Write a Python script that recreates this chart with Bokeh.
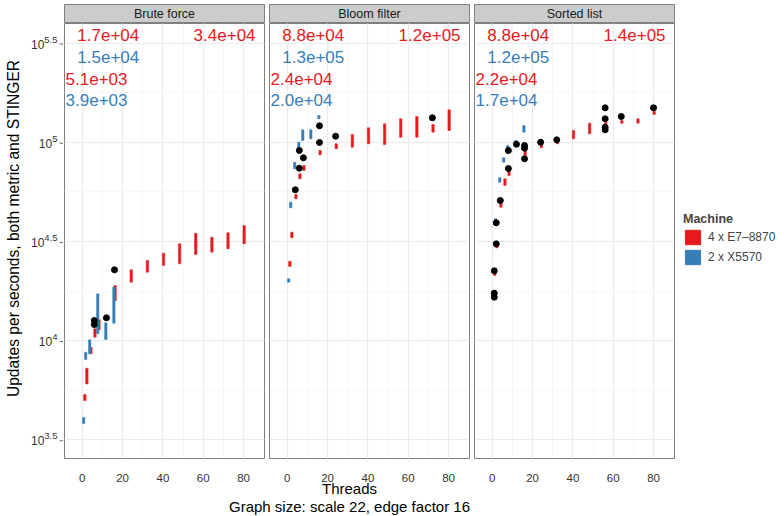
import math
from bokeh.plotting import figure
from bokeh.models import Range1d, FixedTicker, Legend, LegendItem, ColumnDataSource, Grid, LinearAxis, LogAxis
from bokeh.layouts import row, column
from bokeh.embed import file_html
from bokeh.resources import INLINE
from bokeh.core.properties import value

# ---------------- data ----------------
FACETS = ["Brute force", "Bloom filter", "Sorted list"]
MACHINES = ["4 x E7–8870", "2 x X5570"]
COLORS = ["#E41A1C", "#377EB8"]

X_TICKS = [0, 20, 40, 60, 80]
X_MINOR = [10, 30, 50, 70]
Y_TICK_EXP = [3.5, 4, 4.5, 5, 5.5]
Y_TICK_SUP = ["3.5", "4", "4.5", "5", "5.5"]
Y_MINOR_EXP = [3.75, 4.25, 4.75, 5.25]

# 4 x E7-8870 (red): thread counts, violin low / high (updates per second)
red_threads = [1, 2, 4, 6, 8, 16, 24, 32, 40, 48, 56, 64, 72, 80]
brute_red_lo = [4990, 6050, 8580, 10400, 11340, 15930, 19700, 22120, 23900, 24380, 27160, 27900, 29020, 30750]
brute_red_hi = [5350, 7260, 9260, 11470, 12730, 18960, 22740, 25330, 27570, 30750, 34780, 33200, 34940, 38030]
bloom_red_lo = [23630, 32970, 51840, 65390, 72000, 86420, 92630, 94360, 98150, 97360, 105970, 105970, 112300, 114550]
bloom_red_hi = [25130, 35190, 54500, 69270, 76290, 90820, 98150, 109350, 118200, 123800, 131200, 134750, 122800, 145650]
sorted_red_lo = [21290, 29360, 47030, 60510, 67960, 85700, 93710, 98150, 104020, 110230, 121380, 124680, 124680, 137880]
sorted_red_hi = [22120, 30150, 49840, 65390, 72000, 90820, 98850, 101990, 114550, 124680, 126100, 128620, 131200, 143290]

# 2 x X5570 (blue)
brute_blue_threads = [1, 2, 4, 8, 12, 16]
brute_blue_lo = [3822, 8030, 8580, 10820, 10130, 12240]
brute_blue_hi = [4097, 8740, 10090, 17210, 12290, 18590]
bloom_blue_threads = [1, 2, 4, 6, 8, 12, 16]
bloom_blue_lo = [19700, 46700, 73430, 93710, 101990, 104020, 131200]
bloom_blue_hi = [20490, 49840, 79300, 100000, 115480, 115480, 136300]
sorted_blue_threads = [1, 2, 4, 6, 8, 12, 16]
sorted_blue_lo = [16240, 38790, 62860, 79300, 90820, 98150, 112300]
sorted_blue_hi = [17890, 41110, 66160, 83460, 96250, 101990, 121380]

# STINGER points (black)
brute_dot_threads = [6, 6, 12, 16]
brute_dot_vals = [12630, 12050, 13030, 22740]
bloom_dot_threads = [4, 6, 6, 8, 16, 16, 24, 72]
bloom_dot_vals = [57560, 73960, 90820, 83460, 120960, 99650, 107200, 132740]
sorted_dot_threads = [1, 1, 1, 2, 2, 4, 8, 8, 12, 16, 16, 16, 24, 32, 56, 56, 56, 56, 64, 80]
sorted_dot_vals = [17330, 16550, 22480, 30750, 39250, 50840, 73690, 90820, 97700, 96250, 93280, 82490,
                   100000, 102820, 149080, 131200, 119000, 115480, 134750, 149080]

# annotation texts: red@16, red@80, blue@16, red@1, blue@1
brute_ann = ["1.7e+04", "3.4e+04", "1.5e+04", "5.1e+03", "3.9e+03"]
bloom_ann = ["8.8e+04", "1.2e+05", "1.3e+05", "2.4e+04", "2.0e+04"]
sorted_ann = ["8.8e+04", "1.4e+05", "1.2e+05", "2.2e+04", "1.7e+04"]
ANN_COLOR_IDX = [0, 0, 1, 0, 1]

Y_TITLE = "Updates per seconds, both metric and STINGER"
X_TITLE = "Threads"
SUBTITLE = "Graph size: scale 22, edge factor 16"
LEGEND_TITLE = "Machine"

PANELS = [
    (red_threads, brute_red_lo, brute_red_hi, brute_blue_threads, brute_blue_lo, brute_blue_hi,
     brute_dot_threads, brute_dot_vals, brute_ann),
    (red_threads, bloom_red_lo, bloom_red_hi, bloom_blue_threads, bloom_blue_lo, bloom_blue_hi,
     bloom_dot_threads, bloom_dot_vals, bloom_ann),
    (red_threads, sorted_red_lo, sorted_red_hi, sorted_blue_threads, sorted_blue_lo, sorted_blue_hi,
     sorted_dot_threads, sorted_dot_vals, sorted_ann),
]

# ---------------- style / layout ----------------
FONT = "Liberation Sans"
X0, X1 = -8.8, 90.4
Y0, Y1 = 10 ** 3.4058, 10 ** 5.5983
FW, FH = 200, 435
TOP_STRIP = 4
STRIP_H = 19
BOTTOM = 9
LW = 63
LEFTS = [1, 3, 3]
RIGHTS = [2, 2, 2]
ANN_X = [12.9, 70.6, 12.9, 7.1, 7.1]
ANN_LOGY = [5.542, 5.542, 5.428, 5.320, 5.212]
TICK_COLOR = "#666666"
TEXT_COLOR = "#333333"
ROW_H = TOP_STRIP + STRIP_H + FH + BOTTOM
PANEL_W = [LEFTS[k] + FW + RIGHTS[k] for k in range(3)]
FRAME_LEFT = [LW + sum(PANEL_W[:k]) + LEFTS[k] for k in range(3)]
LF_SHIFT = 4  # compensates the extra vertical space the row gives the left column

x_range = Range1d(X0, X1)
y_range = Range1d(Y0, Y1)
tick_y = [10 ** e for e in Y_TICK_EXP]
minor_y = [10 ** e for e in Y_MINOR_EXP]


def style_grid(g):
    g.grid_line_color = "#ebebeb"
    g.grid_line_width = 1.2
    g.minor_grid_line_color = "#f6f6f6"
    g.minor_grid_line_width = 1


def add_grids(p):
    try:
        gx = Grid(dimension=0, ticker=FixedTicker(ticks=X_TICKS, minor_ticks=X_MINOR))
        gy = Grid(dimension=1, ticker=FixedTicker(ticks=tick_y, minor_ticks=minor_y))
    except Exception:
        ax = LinearAxis(ticker=FixedTicker(ticks=X_TICKS, minor_ticks=X_MINOR), visible=False)
        ay = LogAxis(ticker=FixedTicker(ticks=tick_y, minor_ticks=minor_y), visible=False)
        p.add_layout(ax, "below")
        p.add_layout(ay, "left")
        gx = Grid(dimension=0, axis=ax)
        gy = Grid(dimension=1, axis=ay)
    for g in (gx, gy):
        style_grid(g)
        g.level = "underlay"
        p.add_layout(g)


# ---- left strip with y tick labels and y title ----
lf = figure(frame_width=LW, frame_height=FH, x_range=Range1d(0, LW), y_range=y_range, y_axis_type="log",
            min_border_left=0, min_border_right=0, min_border_top=STRIP_H + TOP_STRIP - LF_SHIFT,
            min_border_bottom=BOTTOM + LF_SHIFT,
            toolbar_location=None, output_backend="svg", x_axis_location=None, y_axis_location=None,
            align="start")
lf.grid.visible = False
lf.outline_line_color = None
lf.segment(x0=[LW - 4] * len(tick_y), x1=[LW] * len(tick_y), y0=tick_y, y1=tick_y,
           line_color=TICK_COLOR, line_width=1)
sup_w = [5.3 * len(s.replace(".", "")) + 2.6 * s.count(".") for s in Y_TICK_SUP]
lf.text(x=[LW - 6] * len(tick_y), y=tick_y, text=Y_TICK_SUP, y_offset=-4.5, text_align="right",
        text_baseline="middle", text_font=value(FONT), text_font_size="9.5px", text_color=TEXT_COLOR)
lf.text(x=[LW - 6 - w for w in sup_w], y=tick_y, text=["10"] * len(tick_y), text_align="right",
        text_baseline="middle", text_font=value(FONT), text_font_size="12px", text_color=TEXT_COLOR)
lf.text(x=[12.5], y=[10 ** 4.57], text=[Y_TITLE], angle=math.pi / 2, text_align="center",
        text_baseline="middle", text_font=value(FONT), text_font_size="15.6px", text_color="black")

cols = [lf]
for i, (rt, rlo, rhi, bt, blo, bhi, dt, dv, ann) in enumerate(PANELS):
    # strip
    s = figure(frame_width=FW, frame_height=STRIP_H, x_range=Range1d(0, 1), y_range=Range1d(0, 1),
               min_border_left=LEFTS[i], min_border_right=RIGHTS[i], min_border_top=TOP_STRIP,
               min_border_bottom=0, toolbar_location=None, output_backend="svg",
               x_axis_location=None, y_axis_location=None)
    s.grid.visible = False
    s.background_fill_color = "#cccccc"
    s.outline_line_color = "#7f7f7f"
    s.text(x=[0.5], y=[0.5], text=[FACETS[i]], text_align="center", text_baseline="middle",
           text_font=value(FONT), text_font_size="12.5px", text_color="#1a1a1a")

    p = figure(frame_width=FW, frame_height=FH, x_range=x_range, y_range=y_range, y_axis_type="log",
               min_border_left=LEFTS[i], min_border_right=RIGHTS[i], min_border_top=0,
               min_border_bottom=BOTTOM, toolbar_location=None, output_backend="svg",
               x_axis_location=None, y_axis_location=None)
    p.outline_line_color = "#7f7f7f"
    p.outline_line_width = 1
    p.background_fill_color = "white"
    add_grids(p)

    # violins (thin vertical shapes), dodged
    red_src = ColumnDataSource(dict(x=[t + 0.3 for t in rt], lo=rlo, hi=rhi))
    blue_src = ColumnDataSource(dict(x=[t - 0.3 for t in bt], lo=blo, hi=bhi))
    p.vbar(x="x", bottom="lo", top="hi", width=1.2, source=red_src,
           fill_color=COLORS[0], line_color=COLORS[0], line_width=0.5)
    p.vbar(x="x", bottom="lo", top="hi", width=1.2, source=blue_src,
           fill_color=COLORS[1], line_color=COLORS[1], line_width=0.5)
    p.scatter(x=dt, y=dv, size=6, color="black")

    # annotations
    ann_src = ColumnDataSource(dict(x=ANN_X, y=[10 ** e for e in ANN_LOGY], text=ann,
                                    color=[COLORS[k] for k in ANN_COLOR_IDX]))
    p.text(x="x", y="y", text="text", text_color="color", source=ann_src, text_align="center",
           text_baseline="middle", text_font=value(FONT), text_font_size="17px")

    cols.append(column(s, p, align="start"))

# ---- legend figure ----
LG_W = 784 - LW - sum(PANEL_W)
lg = figure(width=LG_W, height=ROW_H, x_range=Range1d(0, 1), y_range=Range1d(0, 1),
            min_border_left=0, min_border_right=0, min_border_top=24, min_border_bottom=BOTTOM,
            toolbar_location=None, output_backend="svg", x_axis_location=None, y_axis_location=None,
            align="start")
lg.grid.visible = False
lg.outline_line_color = None
items = []
for k, (col, th, lo, hi) in enumerate([(COLORS[0], red_threads, brute_red_lo, brute_red_hi),
                                       (COLORS[1], brute_blue_threads, brute_blue_lo, brute_blue_hi)]):
    r = lg.vbar(x=th[:1], bottom=lo[:1], top=hi[:1], width=0.5, fill_color=col, line_color=col)
    r.visible = False
    items.append(LegendItem(label=MACHINES[k], renderers=[r]))
legend = Legend(items=items, location="center_left", title=LEGEND_TITLE)
legend.title_text_font = FONT
legend.title_text_font_style = "bold"
legend.title_text_font_size = "12.5px"
legend.title_standoff = 2
legend.label_text_font = FONT
legend.label_text_font_size = "12px"
legend.glyph_width = 19
legend.glyph_height = 18
legend.spacing = 2
legend.padding = 2
legend.margin = 7
legend.label_standoff = 6
legend.border_line_color = None
legend.background_fill_alpha = 0
legend.inactive_fill_alpha = 0
lg.add_layout(legend)
cols.append(lg)

# ---- bottom strip: x tick labels (via per-panel scales), x title, subtitle ----
BF_H = 516 - ROW_H
bf = figure(width=784, height=BF_H, x_range=Range1d(0, 784), y_range=Range1d(BF_H, 0),
            min_border=0, toolbar_location=None, output_backend="svg",
            x_axis_location=None, y_axis_location=None, align="start")
bf.grid.visible = False
bf.outline_line_color = None
px_per_unit = FW / (X1 - X0)
extra = {}
for k in range(3):
    start = X0 - FRAME_LEFT[k] / px_per_unit
    extra[f"p{k}"] = Range1d(start, start + 784 / px_per_unit)
bf.extra_x_ranges = extra
for k in range(3):
    n = len(X_TICKS)
    bf.text(x=X_TICKS, y=[10] * n, text=[str(t) for t in X_TICKS], x_range_name=f"p{k}",
            text_align="center", text_baseline="alphabetic", text_font=value(FONT),
            text_font_size="11.5px", text_color=TEXT_COLOR)
bf.text(x=[349, 349], y=[20.5, 38.5], text=[X_TITLE, SUBTITLE], text_align="center",
        text_baseline="alphabetic", text_font=value(FONT), text_font_size="15px", text_color="black")

layout = column(row(*cols, align="start"), bf)
open("out.html", "w").write(file_html(layout, INLINE))
